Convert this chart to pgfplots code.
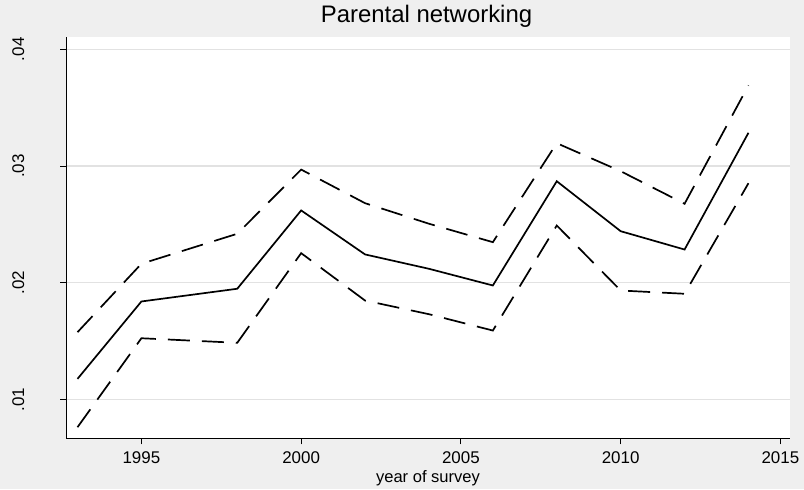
\documentclass[border=0pt]{standalone}
\usepackage{fontspec}
\setmainfont{Liberation Sans}
\usepackage{pgfplots}
\pgfplotsset{compat=1.18}
\definecolor{bggray}{RGB}{239,239,239}
\definecolor{gridgray}{RGB}{226,226,226}
\begin{document}
\begin{tikzpicture}
\fill[bggray] (0,0) rectangle (804bp,489bp);
\begin{axis}[
  at={(66bp,50.7bp)}, anchor=south west,
  scale only axis, width=724bp, height=401bp,
  xmin=1992.64, xmax=2015.3,
  ymin=0.00668, ymax=0.04103,
  axis lines=left, axis line style={-, line width=1bp, black},
  axis background/.style={fill=white},
  tick align=outside, major tick length=6bp,
  tick style={line width=1bp, black},
  xtick={1995,2000,2005,2010,2015},
  xticklabels={1995,2000,2005,2010,2015},
  ytick={0.01,0.02,0.03,0.04},
  yticklabels={.01,.02,.03,.04},
  scaled y ticks=false, scaled x ticks=false,
  /pgf/number format/assume math mode=true,
  ymajorgrids, grid style={gridgray, line width=1.4bp},
  xticklabel style={font=\fontsize{17}{20}\selectfont, anchor=base},
  xticklabel shift=19bp,
  yticklabel style={font=\fontsize{17}{20}\selectfont, rotate=90, anchor=base},
  yticklabel shift=36bp,
  title={Parental networking},
  title style={font=\fontsize{24}{28}\selectfont, at={(axis description cs:0.5,1)}, anchor=base, yshift=9bp, xshift=-1.5bp},
  xlabel={year of survey},
  xlabel style={font=\fontsize{16.6}{20}\selectfont, at={(axis description cs:0.5,0)}, anchor=base, yshift=-44.4bp},
  clip=false,
]
\addplot[black, line width=1.7bp, line join=miter] coordinates {
(1993,0.01177) (1995,0.01840) (1998,0.01949) (2000,0.02620) (2002,0.02243) (2004,0.02120)
(2006,0.01977) (2008,0.02870) (2010,0.02442) (2012,0.02285) (2014,0.03285)};
\addplot[black, line width=1.7bp, dash pattern=on 22bp off 12bp] coordinates {
(1993,0.01577) (1995,0.02163) (1998,0.02420) (2000,0.02970) (2002,0.02682) (2004,0.02506)
(2006,0.02348) (2008,0.03196) (2010,0.02956) (2012,0.02677) (2014,0.03691)};
\addplot[black, line width=1.7bp, dash pattern=on 22bp off 12bp] coordinates {
(1993,0.00763) (1995,0.01525) (1998,0.01486) (2000,0.02254) (2002,0.01848) (2004,0.01731)
(2006,0.01591) (2008,0.02491) (2010,0.01934) (2012,0.01906) (2014,0.02853)};
\end{axis}
\end{tikzpicture}
\end{document}
